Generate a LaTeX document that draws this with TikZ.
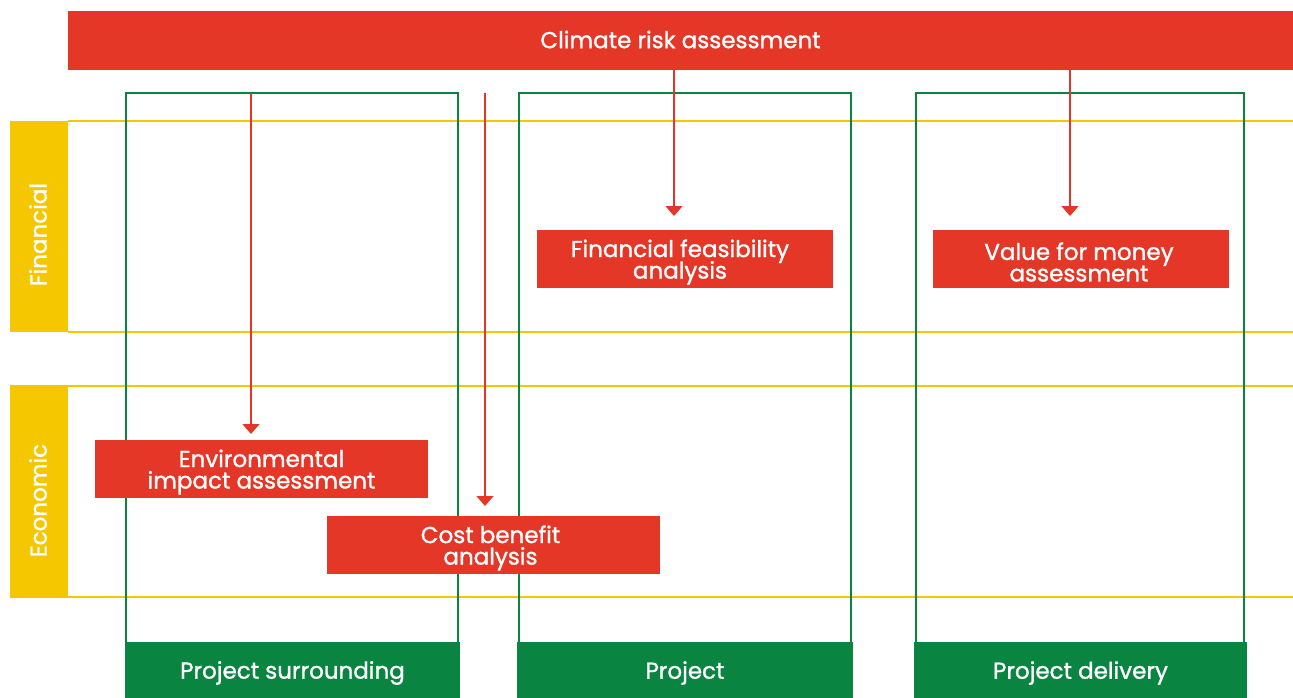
\documentclass[tikz,border=0pt]{standalone}
\usepackage{fontspec}
\setmainfont{Poppins}[FakeBold=1.2]
\newfontfamily\medfont{Poppins}[FakeBold=1.2]
\newcommand\tightlines{\lineskiplimit=-30pt\relax\lineskip=0pt\relax}
\usetikzlibrary{arrows.meta}
\definecolor{cred}{HTML}{E43727}
\definecolor{cgreen}{HTML}{0A8441}
\definecolor{cyellow}{HTML}{F4C700}
\tikzset{
  lblfont/.style={font=\medfont\fontsize{23}{21.5}\selectfont\tightlines},
  redbox/.style={fill=cred, inner sep=0pt},
  greenbox/.style={fill=cgreen, inner sep=0pt},
  ybox/.style={fill=cyellow, inner sep=0pt},
  boxtext/.style={text=white, inner sep=0pt, align=center, lblfont},
  ytext/.style={rotate=90, text=white, inner sep=0pt, lblfont},
  colframe/.style={draw=cgreen, line width=2.5pt},
  yline/.style={draw=cyellow, line width=2.5pt},
  rarrow/.style={draw=cred, line width=1.3pt, -{Triangle[width=17pt,length=10pt]}}
}
\begin{document}
\begin{tikzpicture}[x=1pt,y=-1pt]
\useasboundingbox (0,0) rectangle (1293,698);
% yellow rows
\node[ybox, minimum width=58pt, minimum height=211pt] (fin) at (39,226.5) {};
\node[ytext] (fint) at ([xshift=-1pt,yshift=-8pt]fin.center) {Financial};
\node[ybox, minimum width=58pt, minimum height=213pt] (eco) at (39,491.5) {};
\node[ytext] (ecot) at ([xshift=-1pt,yshift=-9pt]eco.center) {Economic};
\coordinate (y1a) at (68,121); \coordinate (y1b) at (1293,121);
\coordinate (y2a) at (68,332); \coordinate (y2b) at (1293,332);
\coordinate (y3a) at (68,386); \coordinate (y3b) at (1293,386);
\coordinate (y4a) at (68,597); \coordinate (y4b) at (1293,597);
\draw[yline] (y1a) -- (y1b);
\draw[yline] (y2a) -- (y2b);
\draw[yline] (y3a) -- (y3b);
\draw[yline] (y4a) -- (y4b);
% green columns
\draw[colframe] (126,93) rectangle (458,645);
\draw[colframe] (519,93) rectangle (851,645);
\draw[colframe] (916,93) rectangle (1244,645);
\node[greenbox, minimum width=335pt, minimum height=56pt] (c1) at (292.5,670) {};
\node[boxtext] (c1t) at ([yshift=-3pt]c1.center) {Project surrounding};
\node[greenbox, minimum width=336pt, minimum height=56pt] (c2) at (685,670) {};
\node[boxtext] (c2t) at ([yshift=-3pt]c2.center) {Project};
\node[greenbox, minimum width=333pt, minimum height=56pt] (c3) at (1080.5,670) {};
\node[boxtext] (c3t) at ([yshift=-3pt]c3.center) {Project delivery};
% top bar
\node[redbox, minimum width=1225pt, minimum height=59pt] (cra) at (680.5,40.5) {};
\node[boxtext] (crat) at ([yshift=1pt]cra.center) {Climate risk assessment};
% red boxes
\node[redbox, minimum width=296pt, minimum height=58pt] (ffa) at (685,259) {};
\node[boxtext] (ffat) at ([xshift=-5pt,yshift=-3pt]ffa.center) {Financial feasibility\\analysis};
\node[redbox, minimum width=296pt, minimum height=58pt] (vfm) at (1081,259) {};
\node[boxtext] (vfmt) at ([xshift=-2pt,yshift=-3pt]vfm.center) {Value for money\\assessment};
\node[redbox, minimum width=333pt, minimum height=58pt] (eia) at (261.5,469) {};
\node[boxtext] (eiat) at ([yshift=-3pt]eia.center) {Environmental\\impact assessment};
\node[redbox, minimum width=333pt, minimum height=58pt] (cba) at (493.5,545) {};
\node[boxtext] (cbat) at ([xshift=-3pt,yshift=-3pt]cba.center) {Cost benefit\\analysis};
% arrows
\coordinate (a1s) at (251,93);
\coordinate (a1e) at (251,434);
\coordinate (a2s) at (485,93);
\coordinate (a2e) at (485,506);
\draw[rarrow] (a1s) -- (a1e);
\draw[rarrow] (a2s) -- (a2e);
\coordinate (a3e) at (674,216);
\coordinate (a4e) at (1070,216);
\draw[rarrow] (cra.south -| a3e) -- (a3e);
\draw[rarrow] (cra.south -| a4e) -- (a4e);
\end{tikzpicture}
\end{document}
